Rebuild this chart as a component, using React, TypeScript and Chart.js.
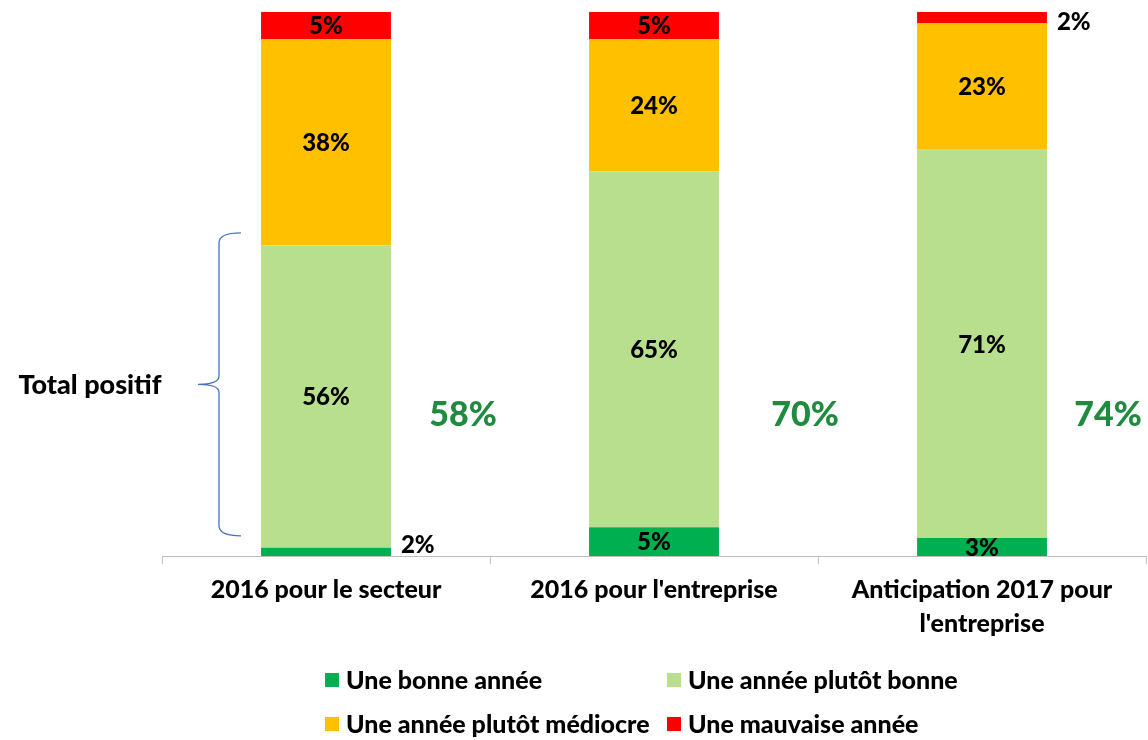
import { useEffect, useRef } from "react";
import { Chart, registerables } from "chart.js";
Chart.register(...registerables);

const FONT = "Lato, 'Open Sans', 'DejaVu Sans', sans-serif";
const W = "900";

const categories = [["2016 pour le secteur"], ["2016 pour l'entreprise"], ["Anticipation 2017 pour", "l'entreprise"]];
const seriesNames = ["Une bonne année", "Une année plutôt bonne", "Une année plutôt médiocre", "Une mauvaise année"];
const seriesColors = ["#00B050", "#B8DF8E", "#FFC000", "#FF0000"];
const bonne = [1.5, 5.3, 3.3];
const plutotBonne = [55.6, 65.4, 71.4];
const mediocre = [37.9, 24.3, 23.3];
const mauvaise = [5.0, 5.0, 2.0];
const totalPositif = [58, 70, 74];
const totalOffsets = [137, 151, 126];
const totalLevel = 26;
const braceRange = [3.7, 59.4];
const braceLabel = "Total positif";

const overlay = {
  id: "overlay",
  afterDatasetsDraw(chart: any) {
    const ctx = chart.ctx;
    const area = chart.chartArea;
    const yS = chart.scales.y;
    const xS = chart.scales.x;
    ctx.save();
    // value labels
    ctx.font = `${W} 24px ${FONT}`;
    ctx.fillStyle = "#000";
    ctx.textBaseline = "middle";
    chart.data.datasets.forEach((ds: any, di: number) => {
      const meta = chart.getDatasetMeta(di);
      meta.data.forEach((el: any, i: number) => {
        const v = ds.data[i];
        const txt = Math.round(v) + "%";
        const cy = (el.y + el.base) / 2;
        if (v < 2.5) {
          ctx.textAlign = "left";
          const y = Math.min(Math.max(cy, area.top + 10), area.bottom - 11);
          ctx.fillText(txt, el.x + el.width / 2 + 10, y);
        } else {
          ctx.textAlign = "center";
          ctx.fillText(txt, el.x, cy + 1);
        }
      });
    });
    // totals
    ctx.font = `${W} 34px ${FONT}`;
    ctx.fillStyle = "#1E8B3E";
    ctx.textAlign = "center";
    totalPositif.forEach((t, i) => {
      ctx.fillText(t + "%", xS.getPixelForValue(i) + totalOffsets[i], yS.getPixelForValue(totalLevel));
    });
    // brace
    const yTop = yS.getPixelForValue(braceRange[1]);
    const yBot = yS.getPixelForValue(braceRange[0]);
    const yMid = (yTop + yBot) / 2;
    const xEnd = area.left + 79;
    const xV = area.left + 57;
    const xTip = area.left + 36;
    ctx.strokeStyle = "#4472C4";
    ctx.lineWidth = 1.3;
    ctx.beginPath();
    ctx.moveTo(xEnd, yTop);
    ctx.quadraticCurveTo(xV, yTop, xV, yTop + 10);
    ctx.lineTo(xV, yMid - 8);
    ctx.quadraticCurveTo(xV, yMid, xTip, yMid);
    ctx.quadraticCurveTo(xV, yMid, xV, yMid + 8);
    ctx.lineTo(xV, yBot - 10);
    ctx.quadraticCurveTo(xV, yBot, xEnd, yBot);
    ctx.stroke();
    ctx.font = `${W} 27px ${FONT}`;
    ctx.fillStyle = "#000";
    ctx.textAlign = "center";
    ctx.fillText(braceLabel, 90, yMid + 1);
    // legend
    const cols = [325, 667];
    const rows = [680, 724];
    ctx.font = `${W} 25px ${FONT}`;
    ctx.textAlign = "left";
    chart.data.datasets.forEach((ds: any, di: number) => {
      const x = cols[di % 2];
      const y = rows[Math.floor(di / 2)];
      ctx.fillStyle = ds.backgroundColor;
      ctx.fillRect(x, y - 7, 14, 14);
      ctx.fillStyle = "#000";
      ctx.fillText(ds.label, x + 21, y + 1);
    });
    ctx.restore();
  },
};

export default function App() {
  const ref = useRef<HTMLCanvasElement>(null);
  useEffect(() => {
    const values = [bonne, plutotBonne, mediocre, mauvaise];
    const chart = new Chart(ref.current as HTMLCanvasElement, {
      type: "bar",
      data: {
        labels: categories,
        datasets: values.map((d, i) => ({
          label: seriesNames[i],
          data: d,
          backgroundColor: seriesColors[i],
          borderWidth: 0,
          categoryPercentage: 1,
          barPercentage: 0.396,
        })),
      },
      options: {
        responsive: false,
        animation: false,
        layout: { padding: { left: 162, right: 2, top: 12, bottom: 0 } },
        plugins: { legend: { display: false }, tooltip: { enabled: false } },
        scales: {
          x: {
            stacked: true,
            afterFit: (s: any) => { s.height = 184; },
            grid: { display: true, drawOnChartArea: false, tickLength: 8, color: "#BFBFBF" },
            border: { color: "#BFBFBF" },
            ticks: {
              color: "#000",
              font: { family: FONT, size: 25, weight: W, lineHeight: 1.36 },
              padding: 9,
              maxRotation: 0,
              autoSkip: false,
            },
          },
          y: { stacked: true, display: false, min: 0, max: 100 },
        },
      },
      plugins: [overlay],
    } as any);
    return () => chart.destroy();
  }, []);
  return (
    <div style={{ position: "fixed", left: 0, top: 0, width: 1148, height: 740, background: "#fff" }}>
      <canvas ref={ref} width={1148} height={740} style={{ display: "block" }} />
    </div>
  );
}
